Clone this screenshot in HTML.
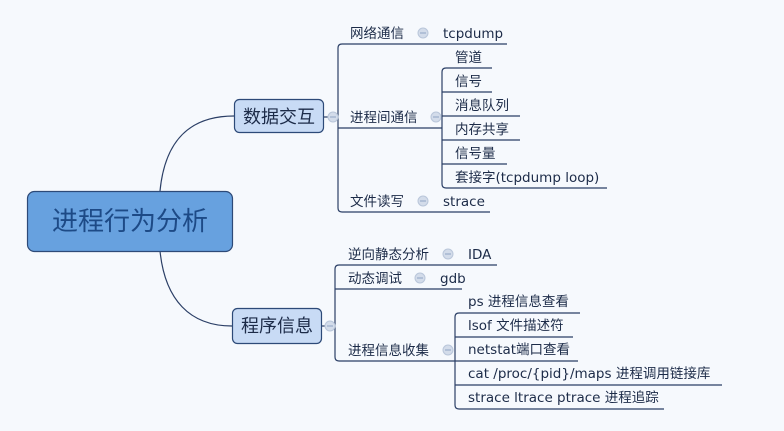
<!DOCTYPE html>
<html><head><meta charset="utf-8"><style>
html,body{margin:0;padding:0;background:#f6f9fd;}
svg{display:block;}
text{font-family:"DejaVu Sans","Noto Sans CJK SC",sans-serif;fill:#1c2b48;font-size:13.5px;}
</style></head><body>
<svg width="784" height="431" viewBox="0 0 784 431">
<rect width="784" height="431" fill="#f6f9fd"/>
<g fill="none" stroke="#2b3f66" stroke-width="1.2">
<path d="M160 191 C165 140 190 116 234 116"/>
<path d="M160 251 C165 300 190 326 232 326"/>
<line x1="324" y1="117" x2="338" y2="117"/>
<line x1="322" y1="326" x2="335" y2="326"/>
<path d="M507 44 H342 Q338 44 338 48 V208 Q338 212 342 212 H490"/>
<line x1="338" y1="128" x2="442" y2="128"/>
<path d="M492 68 H446 Q442 68 442 72 V184 Q442 188 446 188 H607"/>
<line x1="442" y1="92" x2="492" y2="92"/>
<line x1="442" y1="116" x2="520" y2="116"/>
<line x1="442" y1="140" x2="520" y2="140"/>
<line x1="442" y1="164" x2="507" y2="164"/>
<path d="M497 265 H339 Q335 265 335 269 V357 Q335 361 339 361 H455"/>
<line x1="335" y1="289" x2="462" y2="289"/>
<path d="M580 313 H459 Q455 313 455 317 V405 Q455 409 459 409 H664"/>
<line x1="455" y1="337" x2="573" y2="337"/>
<line x1="455" y1="361" x2="578" y2="361"/>
<line x1="455" y1="385" x2="722" y2="385"/>
</g>
<g fill="#d3dcea" stroke="#b9c6da" stroke-width="1">
<circle cx="333" cy="117" r="5"/><circle cx="330" cy="326" r="5"/>
<circle cx="423" cy="33" r="5"/><circle cx="436" cy="117" r="5"/><circle cx="423" cy="201" r="5"/>
<circle cx="448" cy="254" r="5"/><circle cx="420" cy="278" r="5"/><circle cx="448" cy="350" r="5"/>
</g>
<g stroke="#8fa3c4" stroke-width="1">
<line x1="330" y1="117" x2="336" y2="117"/><line x1="327" y1="326" x2="333" y2="326"/>
<line x1="420" y1="33" x2="426" y2="33"/><line x1="433" y1="117" x2="439" y2="117"/><line x1="420" y1="201" x2="426" y2="201"/>
<line x1="445" y1="254" x2="451" y2="254"/><line x1="417" y1="278" x2="423" y2="278"/><line x1="445" y1="350" x2="451" y2="350"/>
</g>
<rect x="27.5" y="191.5" width="205" height="60" rx="7" fill="#67a1df" stroke="#2d4a78" stroke-width="1.2"/>
<text x="130" y="230" text-anchor="middle" style="font-size:26px;fill:#1d4a86">进程行为分析</text>
<rect x="234.5" y="99.5" width="89" height="33" rx="5" fill="#c8dbf5" stroke="#2d4a78" stroke-width="1.2"/>
<text x="279" y="123" text-anchor="middle" style="font-size:18px">数据交互</text>
<rect x="232.5" y="308.5" width="89" height="35" rx="5" fill="#c8dbf5" stroke="#2d4a78" stroke-width="1.2"/>
<text x="277" y="332" text-anchor="middle" style="font-size:18px">程序信息</text>
<text x="350" y="38">网络通信</text><text x="443" y="38">tcpdump</text>
<text x="350" y="122">进程间通信</text>
<text x="455" y="62">管道</text>
<text x="455" y="86">信号</text>
<text x="455" y="110">消息队列</text>
<text x="455" y="134">内存共享</text>
<text x="455" y="158">信号量</text>
<text x="455" y="182">套接字(tcpdump loop)</text>
<text x="350" y="206">文件读写</text><text x="443" y="206">strace</text>
<text x="348" y="259">逆向静态分析</text><text x="468" y="259">IDA</text>
<text x="348" y="283">动态调试</text><text x="440" y="283">gdb</text>
<text x="348" y="355">进程信息收集</text>
<text x="468" y="306">ps 进程信息查看</text>
<text x="468" y="330">lsof 文件描述符</text>
<text x="468" y="354">netstat端口查看</text>
<text x="468" y="378">cat /proc/{pid}/maps 进程调用链接库</text>
<text x="468" y="402">strace ltrace ptrace 进程追踪</text>
</svg>
</body></html>
